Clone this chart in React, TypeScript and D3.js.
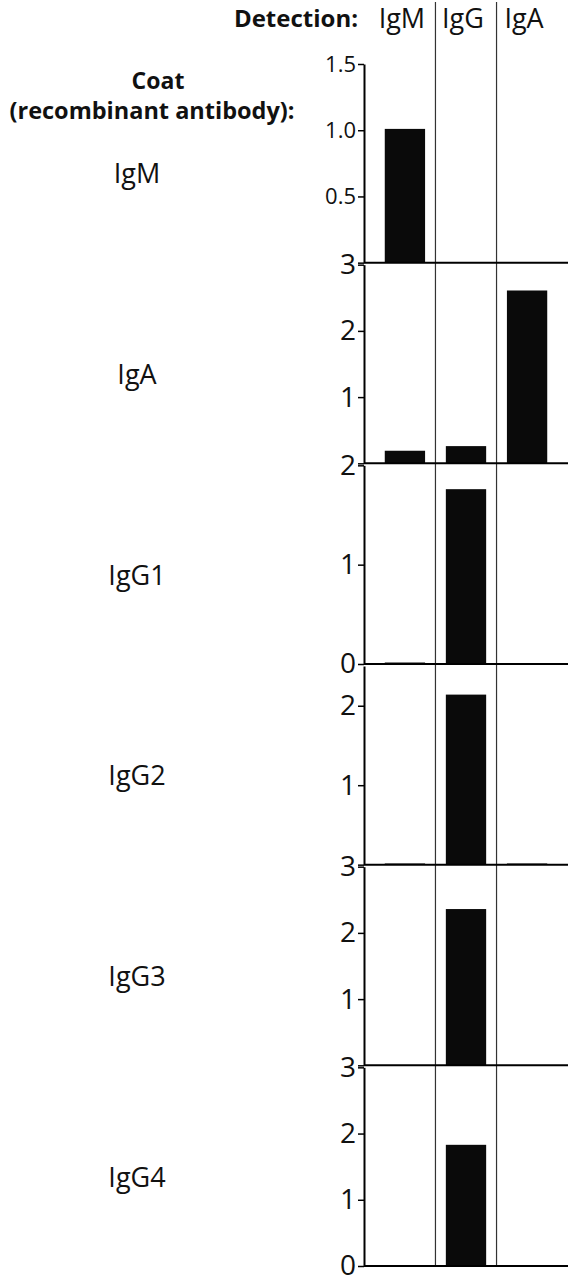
import { useEffect, useRef } from 'react'
import * as d3 from 'd3'

// detection antibody (columns) and coated recombinant antibody (rows)
const detection = ['IgM', 'IgG', 'IgA']
const coats = ['IgM', 'IgA', 'IgG1', 'IgG2', 'IgG3', 'IgG4']

// signal per coat, one array per detection antibody
const igmSignal = [1.01, 0.19, 0.015, 0.015, 0, 0.015]
const iggSignal = [0, 0.26, 1.76, 2.14, 2.36, 1.83]
const igaSignal = [0, 2.61, 0.01, 0.015, 0, 0]

// y axis per panel
const yMax = [1.5, 3, 2, 2.5, 3, 3]
const yTicks = [[0, 0.5, 1, 1.5], [0, 1, 2, 3], [0, 1, 2], [0, 1, 2], [0, 1, 2, 3], [0, 1, 2, 3]]
const yTickLabels = [
  ['', '0.5', '1.0', '1.5'],
  ['', '1', '2', '3'],
  ['0', '1', '2'],
  ['', '1', '2'],
  ['', '1', '2', '3'],
  ['0', '1', '2', '3'],
]

const font = '"Open Sans", "Liberation Sans", sans-serif'

export default function App() {
  const ref = useRef<SVGSVGElement>(null)

  useEffect(() => {
    const svg = d3.select(ref.current)
    svg.selectAll('*').remove()

    const left = 364
    const right = 568
    const signal: Record<string, number[]> = { IgM: igmSignal, IgG: iggSignal, IgA: igaSignal }

    const x = d3.scaleBand()
      .domain(detection)
      .range([left, right])
      .paddingInner(0.34)
      .paddingOuter(0.34)

    const panel = d3.scaleBand()
      .domain(coats)
      .range([64, 1266])
      .paddingInner(0.01)

    // column dividers
    svg.selectAll('.divider')
      .data(detection.slice(1))
      .join('line')
      .attr('class', 'divider')
      .attr('x1', d => x(d)! - (x.step() * x.paddingInner()) / 2)
      .attr('x2', d => x(d)! - (x.step() * x.paddingInner()) / 2)
      .attr('y1', 2)
      .attr('y2', 1266)
      .attr('stroke', '#333')
      .attr('stroke-width', 1.2)

    coats.forEach((coat, i) => {
      const top = panel(coat)!
      const y = d3.scaleLinear()
        .domain([0, yMax[i]])
        .range([top + panel.bandwidth(), top])

      const g = svg.append('g')

      // bars
      g.selectAll('rect')
        .data(detection)
        .join('rect')
        .attr('x', d => x(d)!)
        .attr('width', x.bandwidth())
        .attr('y', d => y(signal[d][i]))
        .attr('height', d => y(0) - y(signal[d][i]))
        .attr('fill', '#0a0a0a')

      // baseline
      g.append('line')
        .attr('x1', left)
        .attr('x2', right)
        .attr('y1', y(0))
        .attr('y2', y(0))
        .attr('stroke', '#000')
        .attr('stroke-width', 2)

      // y axis
      const axis = g.append('g')
        .attr('transform', `translate(${left},0)`)
        .call(
          d3.axisLeft(y)
            .tickValues(yTicks[i])
            .tickFormat((_d, j) => yTickLabels[i][j])
            .tickSize(6)
            .tickSizeOuter(0)
            .tickPadding(2)
        )
      axis.select('.domain').attr('stroke', '#000').attr('stroke-width', 2)
      axis.selectAll('.tick line').attr('stroke', '#000').attr('stroke-width', 1.5)
      axis.selectAll('.tick text')
        .style('font-family', font)
        .style('font-size', yMax[i] < 2 ? '22px' : '28px')
        .attr('fill', '#111')

      // coat label
      svg.append('text')
        .attr('x', 137)
        .attr('y', top + panel.bandwidth() / 2 + 20)
        .attr('text-anchor', 'middle')
        .style('font-family', font)
        .style('font-size', '27px')
        .attr('fill', '#111')
        .text(coat)
    })

    // column headers
    svg.append('text')
      .attr('x', 358)
      .attr('y', 27)
      .attr('text-anchor', 'end')
      .style('font-family', font)
      .style('font-size', '24px')
      .style('font-weight', 700)
      .attr('fill', '#111')
      .text('Detection:')

    svg.selectAll('.col-label')
      .data(detection)
      .join('text')
      .attr('class', 'col-label')
      .attr('x', d => x(d)! + x.bandwidth() / 2 - 3)
      .attr('y', 28)
      .attr('text-anchor', 'middle')
      .style('font-family', font)
      .style('font-size', '27px')
      .attr('fill', '#111')
      .text(d => d)

    // row title
    svg.append('text')
      .attr('x', 158)
      .attr('y', 89)
      .attr('text-anchor', 'middle')
      .style('font-family', font)
      .style('font-size', '23px')
      .style('font-weight', 700)
      .attr('fill', '#111')
      .text('Coat')

    svg.append('text')
      .attr('x', 152)
      .attr('y', 119)
      .attr('text-anchor', 'middle')
      .style('font-family', font)
      .style('font-size', '23.5px')
      .style('font-weight', 700)
      .attr('fill', '#111')
      .text('(recombinant antibody):')
  }, [])

  return (
    <svg
      ref={ref}
      width={571}
      height={1280}
      style={{ position: 'absolute', left: 0, top: 0, background: '#fff' }}
    />
  )
}
